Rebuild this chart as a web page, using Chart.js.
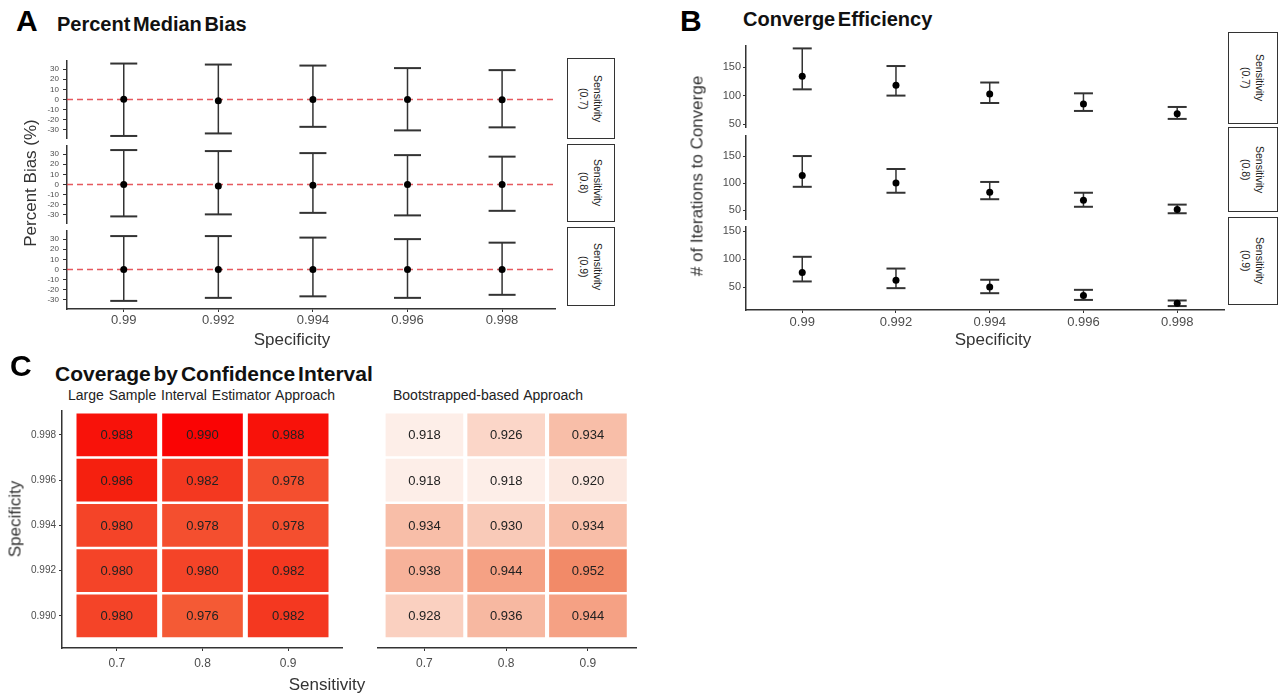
<!DOCTYPE html>
<html>
<head>
<meta charset="utf-8">
<title>Simulation results</title>
<script src="https://cdn.jsdelivr.net/npm/chart.js@4.4.1/dist/chart.umd.min.js"></script>
<style>
  body { margin: 0; background: #fff; }
  #fig { position: relative; width: 1282px; height: 697px; overflow: hidden; font-family: "Liberation Sans", Arial, sans-serif; color: #1a1a1a; }
  #fig canvas { position: absolute; }
  .txt { position: absolute; white-space: nowrap; line-height: 1; }
  .letter { font-weight: bold; font-size: 30px; color: #000; }
  .ptitle { font-weight: bold; font-size: 20px; word-spacing: -3px; color: #111; }
  .sub { font-size: 14px; word-spacing: 1px; color: #222; }
  .axt { font-size: 17px; color: #333; transform: translate(-50%, 0); }
  .vaxt { font-size: 17px; color: #333; transform: translate(-50%, -50%) rotate(-90deg); }
  .strip { position: absolute; box-sizing: border-box; border: 1.5px solid #333; background: #fff; display: flex; align-items: center; justify-content: center; }
  .strip span { writing-mode: vertical-rl; font-size: 10.5px; line-height: 14px; text-align: center; color: #222; }
</style>
</head>
<body>
<div id="fig">
  <!-- panel A -->
  <div class="txt letter" style="left:16px;top:6px">A</div>
  <div class="txt ptitle" style="left:57px;top:14px">Percent Median Bias</div>
  <canvas id="a1" width="536" height="79" style="left:20px;top:60px"></canvas>
  <canvas id="a2" width="536" height="79" style="left:20px;top:145px"></canvas>
  <canvas id="a3" width="536" height="107" style="left:20px;top:230px"></canvas>
  <div class="strip" style="left:567px;top:58px;width:48px;height:81px"><span>Sensitivity<br>(0.7)</span></div>
  <div class="strip" style="left:567px;top:144px;width:48px;height:78px"><span>Sensitivity<br>(0.8)</span></div>
  <div class="strip" style="left:567px;top:227px;width:48px;height:79px"><span>Sensitivity<br>(0.9)</span></div>
  <div class="txt vaxt" style="left:30px;top:183px">Percent Bias (%)</div>
  <div class="txt axt" style="left:292px;top:331px">Specificity</div>

  <!-- panel B -->
  <div class="txt letter" style="left:680px;top:6px">B</div>
  <div class="txt ptitle" style="left:743px;top:9px">Converge Efficiency</div>
  <canvas id="b1" width="525" height="83" style="left:700px;top:45px"></canvas>
  <canvas id="b2" width="525" height="85" style="left:700px;top:135px"></canvas>
  <canvas id="b3" width="525" height="112" style="left:700px;top:226px"></canvas>
  <div class="strip" style="left:1228px;top:32px;width:50px;height:92px"><span>Sensitivity<br>(0.7)</span></div>
  <div class="strip" style="left:1228px;top:127px;width:50px;height:85px"><span>Sensitivity<br>(0.8)</span></div>
  <div class="strip" style="left:1228px;top:217px;width:50px;height:88px"><span>Sensitivity<br>(0.9)</span></div>
  <div class="txt vaxt" style="left:697px;top:176px"># of Iterations to Converge</div>
  <div class="txt axt" style="left:993px;top:331px">Specificity</div>

  <!-- panel C -->
  <div class="txt letter" style="left:10px;top:351px">C</div>
  <div class="txt ptitle" style="left:55px;top:363px;font-size:21px">Coverage by Confidence Interval</div>
  <div class="txt sub" style="left:68px;top:388px">Large Sample Interval Estimator Approach</div>
  <div class="txt sub" style="left:393px;top:388px">Bootstrapped-based Approach</div>
  <canvas id="c1" width="343" height="266" style="left:0px;top:410px"></canvas>
  <canvas id="c2" width="260" height="266" style="left:377px;top:410px"></canvas>
  <div class="txt vaxt" style="left:15px;top:519px">Specificity</div>
  <div class="txt axt" style="left:327px;top:676px">Sensitivity</div>
</div>

<script>
// ---- data ----
var specLabels = ['0.99', '0.992', '0.994', '0.996', '0.998'];
var sensLabels = ['0.7', '0.8', '0.9'];
var specRowLabels = ['0.990', '0.992', '0.994', '0.996', '0.998'];

// A: percent median bias, median and interval per specificity
var biasTicks = [-30, -20, -10, 0, 10, 20, 30];
var biasMid07  = [0.3, -1.2, 0, 0, -0.3];
var biasLow07  = [-36, -33.5, -27, -30.5, -27.5];
var biasHigh07 = [35.5, 34.5, 33.5, 31, 29];
var biasMid08  = [0, -1.4, -0.7, 0, 0];
var biasLow08  = [-31.5, -29.5, -28, -30.5, -26];
var biasHigh08 = [34, 33, 31, 29, 27.5];
var biasMid09  = [0, 0, 0, 0, 0];
var biasLow09  = [-31, -28, -26.5, -28, -25];
var biasHigh09 = [33, 33, 31.5, 30, 26.5];

// B: iterations to converge
var convTicks = [50, 100, 150];
var convMid07  = [134, 118, 103, 85, 68];
var convLow07  = [111, 100, 87, 73, 59];
var convHigh07 = [183, 152, 123, 104, 80];
var convMid08  = [114, 100, 83, 68, 51];
var convLow08  = [93, 82, 70, 56, 44];
var convHigh08 = [150, 126, 102, 82, 60];
var convMid09  = [76, 62, 50, 35, 21];
var convLow09  = [60, 48, 39, 27, 16];
var convHigh09 = [104, 83, 63, 45, 26];

// C: coverage, rows = specificity 0.990 .. 0.998, cols = sensitivity 0.7 / 0.8 / 0.9
var coverLarge = [
  [0.980, 0.976, 0.982],
  [0.980, 0.980, 0.982],
  [0.980, 0.978, 0.978],
  [0.986, 0.982, 0.978],
  [0.988, 0.990, 0.988]
];
var coverBoot = [
  [0.928, 0.936, 0.944],
  [0.938, 0.944, 0.952],
  [0.934, 0.930, 0.934],
  [0.918, 0.918, 0.920],
  [0.918, 0.926, 0.934]
];

// ---- look ----
Chart.defaults.font.family = '"Liberation Sans", Arial, sans-serif';
Chart.defaults.animation = false;

var inkColor = '#333333';
var tickColor = '#4d4d4d';
var refColor = 'rgba(226, 60, 66, 0.85)';
var fillStops = [
  [0.918, [253, 238, 232]],
  [0.934, [248, 190, 168]],
  [0.944, [245, 161, 132]],
  [0.952, [242, 138, 104]],
  [0.976, [244, 90, 53]],
  [0.980, [244, 68, 40]],
  [0.986, [245, 32, 15]],
  [0.990, [250, 4, 4]]
];

function fillFor(v) {
  var rgb = fillStops[fillStops.length - 1][1];
  if (v <= fillStops[0][0]) rgb = fillStops[0][1];
  for (var k = 1; k < fillStops.length; k++) {
    var a = fillStops[k - 1], b = fillStops[k];
    if (v >= a[0] && v <= b[0]) {
      var t = (v - a[0]) / (b[0] - a[0]);
      rgb = [0, 1, 2].map(function (n) { return Math.round(a[1][n] + t * (b[1][n] - a[1][n])); });
      break;
    }
  }
  return 'rgb(' + rgb.join(',') + ')';
}

// fixed axis sizes so the facets line up between canvases
function fixWidth(w) {
  return function (scale) {
    if (scale.options.display) scale.width = w;
    scale.paddingTop = 0; scale.paddingBottom = 0;
  };
}
function fixHeight(h) {
  return function (scale) {
    if (scale.options.display) scale.height = h;
    scale.paddingLeft = 0; scale.paddingRight = 0;
  };
}
function useTicks(values) {
  return function (scale) { scale.ticks = values.map(function (v) { return { value: v }; }); };
}
function indexes(arr) {
  return arr.map(function (l, i) { return i; });
}

function xScale(min, max, labels, show, fontSize, pad) {
  return {
    type: 'linear', min: min, max: max, offset: false, display: show,
    afterBuildTicks: useTicks(indexes(labels)),
    afterFit: fixHeight(28),
    ticks: {
      autoSkip: false, maxRotation: 0, padding: pad,
      font: { size: fontSize }, color: tickColor,
      callback: function (v) { return labels[v]; }
    },
    grid: { offset: false, drawOnChartArea: false, drawTicks: true, tickLength: 3, color: inkColor, lineWidth: 1 },
    border: { display: true, color: inkColor, width: 1.5 }
  };
}

function yScale(min, max, ticks, labels, look) {
  return {
    type: 'linear', min: min, max: max, offset: false, display: look.showY !== false,
    afterBuildTicks: useTicks(ticks),
    afterFit: fixWidth(look.yWidth),
    ticks: {
      autoSkip: false, padding: look.tickPad,
      font: { size: look.yFont }, color: tickColor,
      callback: function (v) { return labels ? labels[v] : v; }
    },
    grid: { offset: false, drawOnChartArea: false, drawTicks: true, tickLength: look.tickLen, color: inkColor, lineWidth: 1 },
    border: { display: true, color: inkColor, width: 1.5 }
  };
}

function baseOptions(scales) {
  return {
    responsive: false, maintainAspectRatio: false, events: [],
    layout: { padding: 0, autoPadding: false },
    plugins: { legend: { display: false }, tooltip: { enabled: false } },
    scales: scales
  };
}

// one facet of median + interval markers
function errorFacet(canvasId, mid, low, high, yMin, yMax, yTicks, look) {
  var whisker = [], caps = [], dots = [];
  for (var i = 0; i < mid.length; i++) {
    whisker.push({ x: i, y: low[i] }, { x: i, y: high[i] }, { x: i, y: null });
    caps.push({ x: i, y: low[i] }, { x: i, y: high[i] });
    dots.push({ x: i, y: mid[i] });
  }
  var datasets = [
    { data: dots, pointRadius: look.dot, pointBackgroundColor: '#000', pointBorderColor: '#000', pointBorderWidth: 0 },
    { data: caps, pointStyle: 'line', pointRadius: look.cap, pointBorderColor: inkColor, pointBorderWidth: 2 },
    { data: whisker, showLine: true, spanGaps: false, pointRadius: 0, borderColor: inkColor, borderWidth: 1.5 }
  ];
  if (look.ref) {
    datasets.push({
      data: [{ x: look.xMin, y: 0 }, { x: look.xMax, y: 0 }],
      showLine: true, pointRadius: 0, borderColor: refColor, borderWidth: 1.6, borderDash: [6, 4]
    });
  }
  new Chart(document.getElementById(canvasId), {
    type: 'scatter',
    data: { datasets: datasets },
    options: baseOptions({
      x: xScale(look.xMin, look.xMax, specLabels, look.showX, 13, look.xPad),
      y: yScale(yMin, yMax, yTicks, null, look)
    })
  });
}

// value text on each tile
var tileText = {
  id: 'tileText',
  afterDatasetsDraw: function (chart) {
    var ctx = chart.ctx;
    ctx.save();
    ctx.font = '13px "Liberation Sans", Arial, sans-serif';
    ctx.fillStyle = '#222';
    ctx.textAlign = 'center';
    ctx.textBaseline = 'middle';
    chart.data.datasets.forEach(function (ds, i) {
      chart.getDatasetMeta(i).data.forEach(function (bar, j) {
        ctx.fillText(ds.values[j].toFixed(3), bar.x, (bar.y + bar.base) / 2 + 1);
      });
    });
    ctx.restore();
  }
};

function heatmap(canvasId, grid, xMin, xMax, tileW, look) {
  var datasets = grid.map(function (row, r) {
    return {
      data: row.map(function (v, c) { return { x: c, y: [r - 0.465, r + 0.465] }; }),
      values: row,
      backgroundColor: row.map(fillFor),
      borderWidth: 0,
      barThickness: tileW,
      grouped: false
    };
  });
  new Chart(document.getElementById(canvasId), {
    type: 'bar',
    data: { datasets: datasets },
    options: baseOptions({
      x: xScale(xMin, xMax, sensLabels, true, 12, 5),
      y: yScale(-0.71, 4.55, indexes(specRowLabels), specRowLabels, look)
    }),
    plugins: [tileText]
  });
}

// ---- panel A ----
var lookA = { yWidth: 47, yFont: 8, tickLen: 4, tickPad: 4, cap: 13.5, dot: 3.5, xMin: -0.6, xMax: 4.57, ref: true, showX: false, xPad: 1 };
errorFacet('a1', biasMid07, biasLow07, biasHigh07, -39, 39, biasTicks, lookA);
errorFacet('a2', biasMid08, biasLow08, biasHigh08, -39, 39, biasTicks, lookA);
errorFacet('a3', biasMid09, biasLow09, biasHigh09, -39, 39, biasTicks, Object.assign({}, lookA, { showX: true }));

// ---- panel B ----
var lookB = { yWidth: 46, yFont: 11, tickLen: 3, tickPad: 2, cap: 9.5, dot: 3.5, xMin: -0.6, xMax: 4.51, ref: false, showX: false, xPad: 2 };
errorFacet('b1', convMid07, convLow07, convHigh07, 43, 189, convTicks, lookB);
errorFacet('b2', convMid08, convLow08, convHigh08, 31.5, 189, convTicks, lookB);
errorFacet('b3', convMid09, convLow09, convHigh09, 9, 159, convTicks, Object.assign({}, lookB, { showX: true }));

// ---- panel C ----
heatmap('c1', coverLarge, -0.64, 2.64, 80, { yWidth: 62, yFont: 10, tickLen: 3, tickPad: 3 });
heatmap('c2', coverBoot, -0.58, 2.6, 77, { yWidth: 0, yFont: 10, tickLen: 3, tickPad: 3, showY: false });
</script>
</body>
</html>
